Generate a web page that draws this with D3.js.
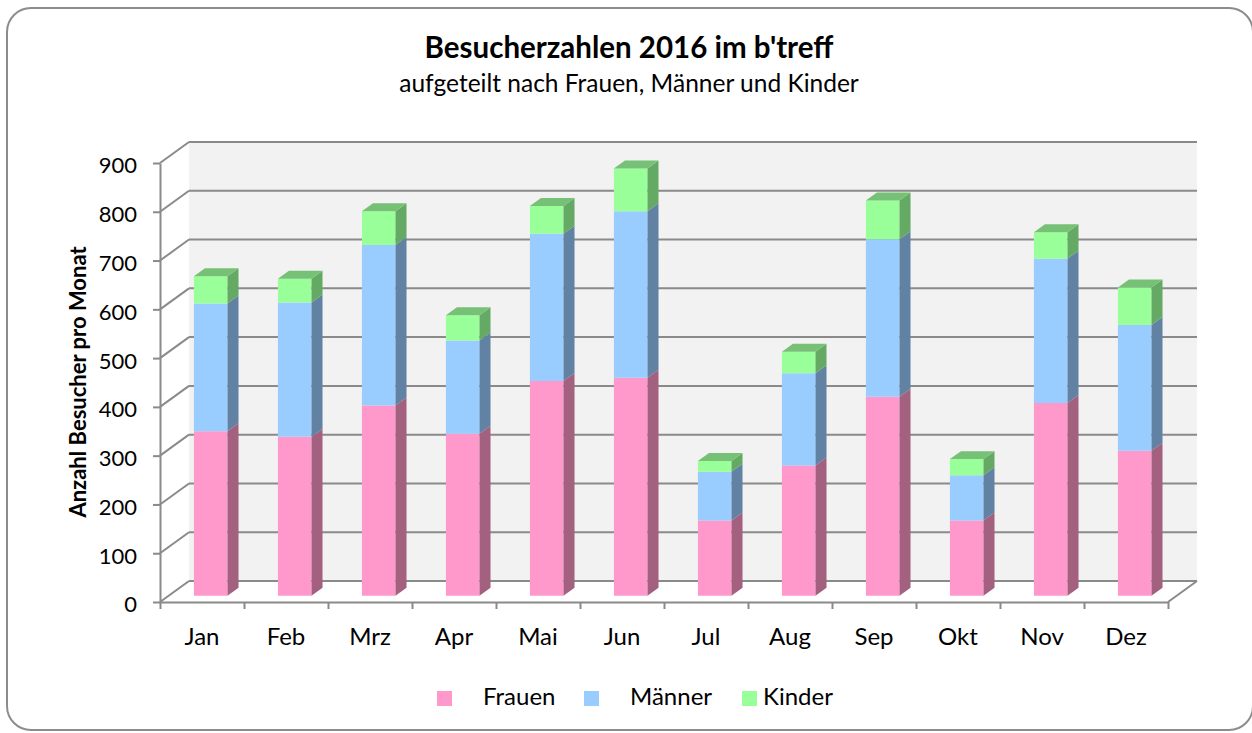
<!DOCTYPE html>
<html>
<head>
<meta charset="utf-8">
<script src="https://cdn.jsdelivr.net/npm/d3@7"></script>
<style>
  html, body { margin: 0; padding: 0; background: #fff; }
  svg text { font-family: Lato, "Liberation Sans", sans-serif; fill: #000; }
</style>
</head>
<body>
<svg id="chart" width="1252" height="733"></svg>
<script>
// data
const months = ['Jan', 'Feb', 'Mrz', 'Apr', 'Mai', 'Jun', 'Jul', 'Aug', 'Sep', 'Okt', 'Nov', 'Dez'];
const frauen = [337, 326, 390, 332, 440, 447, 154, 267, 408, 154, 395, 297];
const maenner = [262, 275, 329, 191, 302, 341, 100, 189, 323, 93, 296, 258];
const kinder = [56, 49, 69, 52, 57, 88, 22, 44, 79, 33, 54, 77];
const seriesNames = ['Frauen', 'Männer', 'Kinder'];
const yTicks = [0, 100, 200, 300, 400, 500, 600, 700, 800, 900];

const frontColors = ['#ff99cc', '#99ccff', '#99ff99'];
const sideColors = ['#a3607f', '#6282a4', '#64a964'];
const topColors = ['#cc7aa3', '#7aa3cc', '#77c177'];
const gridColor = '#8a8a8a';

const svg = d3.select('#chart');

// frame
svg.append('rect')
    .attr('x', 7).attr('y', 8)
    .attr('width', 1246).attr('height', 722)
    .attr('rx', 24).attr('ry', 24)
    .attr('fill', '#fff')
    .attr('stroke', '#8c8c8c')
    .attr('stroke-width', 2);

// scales (front plane) + depth offset for the 3d look
const left = 160, right = 1168;
const y = d3.scaleLinear().domain([0, 900]).range([602, 163]);
const xb = d3.scaleBand().domain(months).range([left, right]).paddingInner(0.6).paddingOuter(0.3);
const xc = d3.scaleBand().domain(months).range([left, right]);
const DX = 29, DY = -21;
const f0 = 0.3, f1 = 0.68;

const P = (x, v, f) => [x + f * DX, y(v) + f * DY];
const poly = (pts) => pts.map(p => p.join(',')).join(' ');

// back wall
svg.append('polygon')
    .attr('points', poly([P(left, 0, 1), P(right, 0, 1), P(right, 900, 1), P(left, 900, 1)]))
    .attr('fill', '#f2f2f2');

const grid = svg.append('g')
    .attr('stroke', gridColor)
    .attr('stroke-width', 2)
    .attr('fill', 'none');

// gridlines on the back wall
grid.selectAll('line.back')
    .data(yTicks)
    .join('line')
    .attr('class', 'back')
    .attr('x1', d => P(left, d, 1)[0]).attr('y1', d => P(left, d, 1)[1])
    .attr('x2', d => P(right, d, 1)[0]).attr('y2', d => P(right, d, 1)[1]);

// diagonals on the side wall
grid.selectAll('line.side')
    .data(yTicks)
    .join('line')
    .attr('class', 'side')
    .attr('x1', d => P(left, d, 0)[0]).attr('y1', d => P(left, d, 0)[1])
    .attr('x2', d => P(left, d, 1)[0]).attr('y2', d => P(left, d, 1)[1]);

// floor right edge
grid.append('line')
    .attr('x1', P(right, 0, 0)[0]).attr('y1', P(right, 0, 0)[1])
    .attr('x2', P(right, 0, 1)[0]).attr('y2', P(right, 0, 1)[1]);

// y axis
const yAxis = svg.append('g')
    .attr('transform', `translate(${left},0)`)
    .call(d3.axisLeft(y).tickValues(yTicks).tickSize(7).tickSizeOuter(0).tickPadding(16));
yAxis.selectAll('path, line').attr('stroke', gridColor).attr('stroke-width', 2);
yAxis.selectAll('text')
    .attr('font-size', 22)
    .attr('dy', '0.45em')
    .style('font-family', 'Lato, sans-serif');

// x axis (ticks on category boundaries)
const xTickScale = d3.scaleLinear().domain([0, months.length]).range([left, right]);
const xAxis = svg.append('g')
    .attr('transform', `translate(0,${y(0)})`)
    .call(d3.axisBottom(xTickScale).tickValues(d3.range(months.length + 1)).tickSize(7).tickSizeOuter(0).tickFormat(''));
xAxis.selectAll('path, line').attr('stroke', gridColor).attr('stroke-width', 2);

svg.append('g')
    .selectAll('text')
    .data(months)
    .join('text')
    .attr('x', d => xc(d) + xc.bandwidth() / 2)
    .attr('y', 645)
    .attr('text-anchor', 'middle')
    .attr('font-size', 24)
    .text(d => d);

// stacked bars
const rows = months.map((m, i) => ({ month: m, Frauen: frauen[i], 'Männer': maenner[i], Kinder: kinder[i] }));
const stacked = d3.stack().keys(seriesNames)(rows);
const w = xb.bandwidth();

const bars = svg.append('g');
months.forEach((m, i) => {
    const x0 = xb(m);
    const g = bars.append('g');
    stacked.forEach((layer, s) => {
        const [v0, v1] = layer[i];
        // front face
        g.append('polygon')
            .attr('points', poly([P(x0, v0, f0), P(x0 + w, v0, f0), P(x0 + w, v1, f0), P(x0, v1, f0)]))
            .attr('fill', frontColors[s]);
        // right side face
        g.append('polygon')
            .attr('points', poly([P(x0 + w, v0, f0), P(x0 + w, v0, f1), P(x0 + w, v1, f1), P(x0 + w, v1, f0)]))
            .attr('fill', sideColors[s]);
        // top face on the last segment
        if (s === stacked.length - 1) {
            g.append('polygon')
                .attr('points', poly([P(x0, v1, f0), P(x0 + w, v1, f0), P(x0 + w, v1, f1), P(x0, v1, f1)]))
                .attr('fill', topColors[s]);
        }
    });
});

// titles
svg.append('text')
    .attr('x', 629).attr('y', 58)
    .attr('text-anchor', 'middle')
    .attr('font-size', 29.5)
    .attr('font-weight', 'bold')
    .text("Besucherzahlen 2016 im b'treff");

svg.append('text')
    .attr('x', 629).attr('y', 92)
    .attr('text-anchor', 'middle')
    .attr('font-size', 24.5)
    .text('aufgeteilt nach Frauen, Männer und Kinder');

svg.append('text')
    .attr('transform', 'translate(86,382) rotate(-90)')
    .attr('text-anchor', 'middle')
    .attr('font-size', 22)
    .attr('font-weight', 'bold')
    .text('Anzahl Besucher pro Monat');

// legend
const legendBox = [437, 584, 742];
const legendText = [483, 630, 763];
const legend = svg.append('g');
seriesNames.forEach((name, s) => {
    legend.append('rect')
        .attr('x', legendBox[s]).attr('y', 691)
        .attr('width', 15).attr('height', 15)
        .attr('fill', frontColors[s]);
    legend.append('text')
        .attr('x', legendText[s]).attr('y', 705)
        .attr('font-size', 24)
        .text(name);
});
</script>
</body>
</html>
